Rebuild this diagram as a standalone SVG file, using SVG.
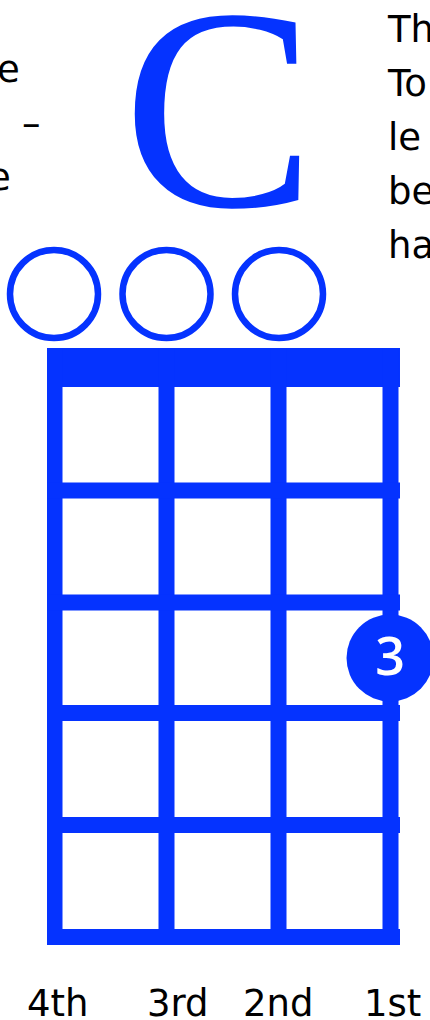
<svg xmlns="http://www.w3.org/2000/svg" width="430" height="1020" viewBox="0 0 430 1020">
<style>
.b{fill:#0533ff}
.open{fill:none;stroke:#0533ff;stroke-width:6.5}
.t{font-family:"DejaVu Sans","Liberation Sans",sans-serif;font-size:37px;fill:#000}
</style>
<rect width="430" height="1020" fill="#fff"/>
<g id="side-text">
<text class="t" x="-3" y="82">e</text>
<text class="t" x="22" y="136">–</text>
<text class="t" x="-12" y="190">e</text>
<text class="t" x="388" y="42">Th</text>
<text class="t" x="388" y="96">To</text>
<text class="t" x="388" y="150">le</text>
<text class="t" x="388" y="204">be</text>
<text class="t" x="388" y="258">ha</text>
</g>
<g id="title">
<text x="219" y="206" text-anchor="middle" font-family="Liberation Serif,serif" font-size="288" class="b">C</text>
</g>
<g id="open-strings">
<circle class="open" cx="54" cy="294" r="44"/>
<circle class="open" cx="166.5" cy="294" r="44"/>
<circle class="open" cx="279" cy="294" r="44"/>
</g>
<g id="fretboard">
<rect class="b" x="47" y="348" width="353" height="39"/>
<rect class="b" x="47" y="348" width="15.5" height="597"/>
<rect class="b" x="158.5" y="348" width="16" height="597"/>
<rect class="b" x="270.5" y="348" width="16" height="597"/>
<rect class="b" x="382.5" y="348" width="16" height="597"/>
<rect class="b" x="47" y="482.5" width="353" height="16"/>
<rect class="b" x="47" y="594.5" width="353" height="16"/>
<rect class="b" x="47" y="705" width="353" height="16"/>
<rect class="b" x="47" y="817" width="353" height="16"/>
<rect class="b" x="47" y="929" width="353" height="16"/>
</g>
<g id="finger-3">
<circle class="b" cx="390" cy="658" r="43.5"/>
<text x="390" y="675" text-anchor="middle" font-family="Open Sans,sans-serif" font-weight="600" font-size="52" fill="#fff">3</text>
</g>
<g id="string-labels">
<text class="t" x="27" y="1016">4th</text>
<text class="t" x="147" y="1016">3rd</text>
<text class="t" x="243" y="1016">2nd</text>
<text class="t" x="364" y="1016">1st</text>
</g>
</svg>
